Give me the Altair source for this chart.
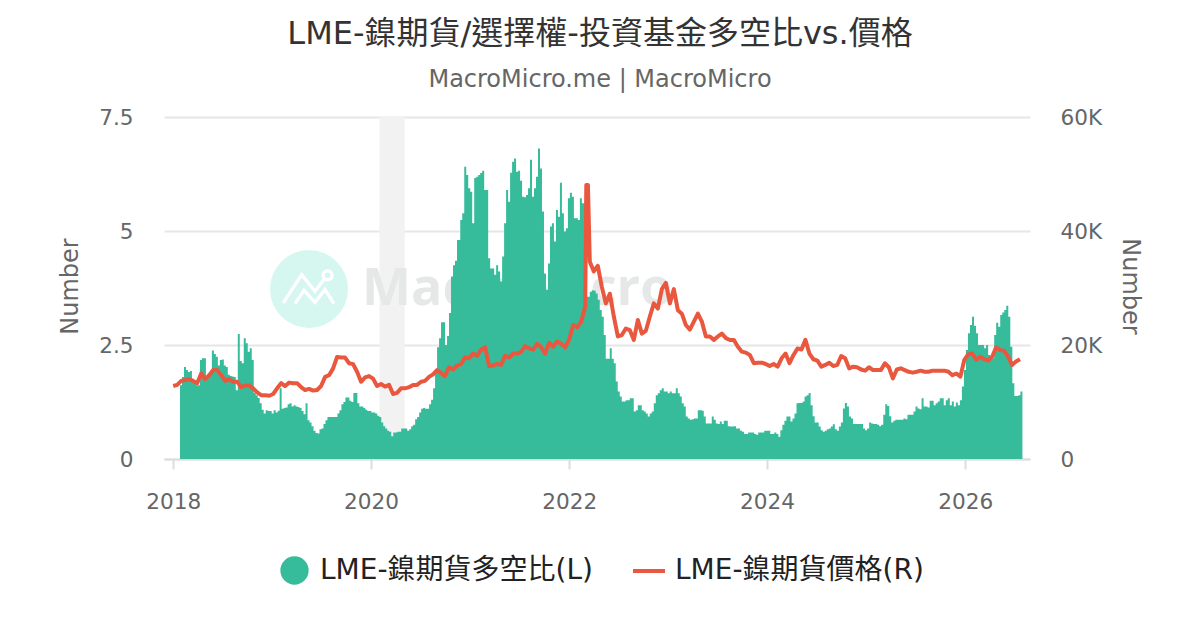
import altair as alt
import pandas as pd

FONT = '"DejaVu Sans","Noto Sans CJK TC",sans-serif'
TITLE = "LME-鎳期貨/選擇權-投資基金多空比vs.價格"
SUBTITLE = "MacroMicro.me | MacroMicro"
RATIO_NAME = "LME-鎳期貨多空比(L)"
PRICE_NAME = "LME-鎳期貨價格(R)"
GREEN = "#37BC9B"
RED = "#E9573F"

ratio_a = [1.62,1.80,2.02,1.95,1.91,1.93,1.75,1.70,1.62,1.62,2.17,2.21,2.21,1.80,1.82,1.92,2.38,2.30,2.24,2.05,
2.17,2.18,2.05,2.02,1.85,1.82,1.81,1.80,1.51,2.74,2.15,2.10,2.65,2.54,2.35,2.43,2.17,1.45,1.40,1.34,
1.22,1.08,1.00,1.07,1.05,1.05,1.00,1.07,1.02,1.06,1.55,1.10,1.12,1.13,1.20,1.22,1.15,1.18,1.15,1.14,
1.12,1.05,0.98,1.22,0.85,0.80,0.72,0.62,0.57,0.56,0.65,0.67,0.77,0.85,0.92,0.92,0.92,0.92,0.92,1.00,
1.07,1.20,1.25,1.35,1.35,1.28,1.25,1.45,1.45,1.22,1.15,1.15,1.12,1.08,1.05,1.05,1.02,1.02,1.00,0.95,
0.92,0.80,0.72,0.67,0.62,0.60,0.50,0.58,0.58,0.60,0.60,0.67,0.67,0.67,0.62,0.65,0.72,0.75,0.87,0.92,
1.02,1.10,1.12,1.10,1.10,1.20,1.30,1.55,1.90,2.45,2.65,3.00,3.00,2.50,2.70,3.20,4.00,4.25,4.35,4.80]
ratio_b = [5.24,5.39,6.41,6.23,5.94,5.86,5.17,6.16,6.19,6.23,6.27,6.32,5.90,5.90,4.40,4.18,4.18,4.04,4.25,4.11,
3.89,4.44,5.17,5.90,5.64,6.28,6.52,6.59,6.30,6.32,6.10,5.75,5.74,5.79,5.94,6.56,5.75,5.94,6.19,6.81,
6.37,5.43,4.07,3.71,4.29,5.10,5.17,4.77,5.46,5.31,6.06,5.39,4.99,5.06,5.72,5.84,5.75,5.28,5.28,5.24,
5.72,5.61,5.61]
ratio_c = [3.56,3.56,3.67,3.70,3.69,3.63,3.49,3.27,3.12,2.72,2.20,2.20,2.43,2.20,2.10,1.70,1.48,1.37,1.26,1.26,
1.29,1.29,1.33,1.33,1.04,1.07,1.18,1.18,1.07,1.04,1.00,0.93,1.00,1.04,1.22,1.40,1.44,1.51,1.55,1.48,
1.48,1.44,1.48,1.44,1.44,1.55,1.44,1.37,1.22,1.15,0.93,0.89,0.86,0.87,0.89,0.89,1.07,1.07,1.06,0.93,
0.78,0.78,0.78,0.93,0.86,0.78,0.77,0.82,0.77,0.84,0.84,0.72]
ratio_d = [0.71,0.71,0.72,0.67,0.67,0.62,0.60,0.55,0.55,0.58,0.58,0.58,0.55,0.53,0.58,0.58,0.58,0.62,0.62,0.62,
0.55,0.55,0.58,0.55,0.49,0.63,0.75,0.84,0.93,0.93,0.82,0.89,1.00,1.22,1.23,1.23,1.26,1.37,1.40,1.45,
1.18,0.94,0.80,0.80,0.71,0.63,0.60,0.62,0.65,0.67,0.71,0.76,0.65,0.62,0.71,0.80,1.11,1.23,1.15,0.93,
0.89,0.77,0.77,0.77,0.77,0.77,0.67,0.63,0.67,0.80,0.78,0.77,0.77,0.75,0.72,0.75,0.97,1.20,1.16,0.94,
0.80,0.84,0.86,0.86,0.86,0.86,0.89,0.87,0.97,0.97,0.97,1.04,1.15,1.11,1.09,1.33,1.15,1.15,1.13,1.28,
1.28,1.18,1.22,1.26,1.33,1.33,1.18,1.29,1.33,1.18,1.26,1.15,1.24,1.18,1.29,1.59,1.95,2.39,2.76,2.94,
3.12,2.92,2.76,2.50,2.50,2.50,2.43,2.50,2.28,2.21,2.21,2.72,2.99,2.90,3.16,3.21,3.27,3.36,3.12,2.46,
1.66,1.38,1.38,1.40,1.48,1.48]

price_a = [12.8,13.0,13.7,13.85,14.0,13.7,13.3,15.0,14.0,14.7,15.6,15.6,14.7,13.7,14.0,13.55,13.55,12.6,12.9,12.9,
12.4,11.7,11.2,11.2,11.1,11.4,12.4,13.3,12.8,13.4,13.3,13.3,12.6,12.1,12.3,12.0,12.1,12.8,14.4,14.7,
15.9,17.9,17.8,17.8,16.8,16.65,15.3,13.55,14.3,14.55,14.1,12.8,13.15,12.7,13.0,11.4,11.6,12.4,12.4,12.6,
13.0,13.0,13.55,13.7,14.4,14.85,15.6,15.1,14.55,16.1,15.7,16.4]
price_b = [16.66,17.83,17.66,18.5,18.1,19.2,19.6,16.3,16.4,16.7,16.5,18.1,17.8,18.5,18.5,18.8,19.8,19.4,19.2,20.2,
19.6,18.5,20.4,19.7,20.6,20.2,19.6,21.0,23.5,23.1,24.1,26.7]
price_c = [48.07,48.07]
price_d = [34.6,32.9,33.9,30.2,27.3,29.0,25.0,21.5,21.75,22.9,22.6,20.9,24.4,22.0,22.5,25.0,27.3,26.4,29.8,30.9,
27.3,29.8,26.1,25.5,23.5,22.7,24.1,25.5,24.1,21.5,21.5,20.9,21.5,22.0,21.2]
price_e = [20.88,20.88,19.7,18.83,18.66,18.25,16.8,16.9,16.9,16.67,16.3,16.67,16.2,17.66,18.5,16.8,18.25,19.4,19.2,20.9,
18.5,17.5,17.25,16.2,16.5,16.9,16.3,16.5,18.07,17.66,15.9,16.2,16.1,15.7,15.5,16.1,15.6,15.6,15.6,16.8,
16.1,14.15,15.7,15.9,15.6,15.3,15.15,15.3,15.5,15.3,15.3,15.5,15.5,15.5,15.5,15.3,14.7,15.0,14.45,17.4,
18.4,18.5,17.4,17.95,17.5,17.25,17.95,19.6,19.1,19.0,17.95,16.5,17.1,17.5]

ratio_spans = [("2018-01-26","2020-11-13",ratio_a),("2020-11-25","2022-02-24",ratio_b),
               ("2022-03-03","2023-08-09",ratio_c),("2023-08-17","2026-07-31",ratio_d)]
price_spans = [("2018-01-01","2020-11-13",price_a),("2020-11-28","2022-03-01",price_b),
               ("2022-03-05","2022-03-11",price_c),("2022-03-18","2023-08-02",price_d),
               ("2023-08-17","2026-07-22",price_e)]
band_start, band_end = "2020-02-01", "2020-05-04"
x_domain = ["2017-11-28","2026-08-28"]
years = [2018,2020,2022,2024,2026]

def table(spans, name):
    parts = []
    for start, end, vals in spans:
        parts.append(pd.DataFrame({"date": pd.date_range(start, end, periods=len(vals)), "v": vals}))
    out = pd.concat(parts, ignore_index=True)
    out["name"] = name
    return out

ratio = table(ratio_spans, RATIO_NAME)
price = table(price_spans, PRICE_NAME)
price["v"] = price["v"] * 1000

W, H = 866, 342
x_axis = alt.Axis(values=[alt.DateTime(year=y) for y in years], format="%Y", title=None, grid=False,
                  domainColor="#dddddd", domainWidth=2, tickColor="#dddddd", tickWidth=2, tickSize=10,
                  labelFontSize=21.6, labelColor="#666666", labelPadding=22, labelFont=FONT, labelFlush=False)
x = alt.X("date:T", axis=x_axis, scale=alt.Scale(domain=x_domain))

one = pd.DataFrame({"a": [0]})
band = alt.Chart(pd.DataFrame({"s": [band_start], "e": [band_end]})).mark_rect(color="#f2f2f2").encode(
    x=alt.X("s:T", axis=x_axis, scale=alt.Scale(domain=x_domain)), x2="e:T")

LX, LY = 145, 172
disc = alt.Chart(one).mark_point(filled=True, color="#d5f7f0", opacity=1, size=6084).encode(
    x=alt.value(LX), y=alt.value(LY))
ICON = ("M-0.329 0.179L-0.094 -0.184L0.077 0.03L0.205 -0.141"
        "M-0.179 0.188L-0.064 0.017L0.077 0.171L0.205 0.009L0.32 0.188"
        "M0.297 -0.175A0.058 0.058 0 1 1 0.181 -0.175A0.058 0.058 0 1 1 0.297 -0.175")
icon = alt.Chart(one).mark_point(shape=ICON, filled=False, color="white", opacity=1, strokeWidth=3.3, size=24336).encode(
    x=alt.value(LX), y=alt.value(LY))
word = alt.Chart(one).mark_text(text="MacroMicro", font="Open Sans", fontWeight="bold", fontSize=52, color="#e6e8e8",
                                align="left", baseline="middle").encode(x=alt.value(198), y=alt.value(172))

area = alt.Chart(ratio).mark_area(interpolate="step-after", opacity=1).encode(
    x=x,
    y=alt.Y("v:Q", scale=alt.Scale(domain=[0, 7.5]),
            axis=alt.Axis(orient="left", values=[0, 2.5, 5, 7.5], labelExpr="'' + datum.value", title="Number",
                          titleFontSize=24, titleColor="#666666", titleFontWeight="normal", titleFont=FONT,
                          titleX=-82, titleY=169,
                          labelFontSize=21.6, labelColor="#666666", labelFont=FONT, labelPadding=31, labelOffset=1,
                          ticks=False, domain=False, grid=True, gridColor="#e6e6e6", gridWidth=2)),
    fill=alt.Fill("name:N", scale=alt.Scale(domain=[RATIO_NAME], range=[GREEN]),
                  legend=alt.Legend(title=None, orient="none", legendX=116, legendY=439, symbolType="circle",
                                    symbolSize=800, symbolStrokeWidth=0, labelFontSize=28, labelColor="#222222",
                                    labelFont=FONT, labelOffset=11, labelLimit=400)))
line = alt.Chart(price).mark_line(strokeWidth=4, strokeJoin="round").encode(
    x=x,
    y=alt.Y("v:Q", scale=alt.Scale(domain=[0, 60000]),
            axis=alt.Axis(orient="right", values=[0, 20000, 40000, 60000],
                          labelExpr="datum.value == 0 ? '0' : (datum.value / 1000) + 'K'", title="Number",
                          titleAngle=90, titleFontSize=24, titleColor="#666666", titleFontWeight="normal", titleFont=FONT,
                          titleX=87, titleY=169,
                          labelFontSize=21.6, labelColor="#666666", labelFont=FONT, labelPadding=30, labelOffset=1,
                          ticks=False, domain=False, grid=False)),
    stroke=alt.Stroke("name:N", scale=alt.Scale(domain=[PRICE_NAME], range=[RED]),
                      legend=alt.Legend(title=None, orient="none", legendX=467, legendY=436, symbolType="stroke",
                                        symbolSize=1024, symbolStrokeWidth=4, labelFontSize=28, labelColor="#222222",
                                        labelFont=FONT, labelOffset=8, labelLimit=400)))

chart = alt.layer(band, disc, icon, word, area, line).resolve_scale(y="independent", fill="independent", stroke="independent").properties(
    width=W, height=H,
    autosize=alt.AutoSizeParams(type="none"),
    padding={"left": 156, "top": 109, "right": 162, "bottom": 163},
    title=alt.TitleParams(text=TITLE, subtitle=SUBTITLE, anchor="middle", frame="group", dx=3, offset=14,
                          font=FONT, fontSize=32, fontWeight="normal", color="#333333",
                          subtitleFont=FONT, subtitleFontSize=24, subtitleColor="#666666", subtitlePadding=17),
).configure_view(stroke=None)

chart.save("out.html", embed_options={"renderer": "svg", "actions": False})
